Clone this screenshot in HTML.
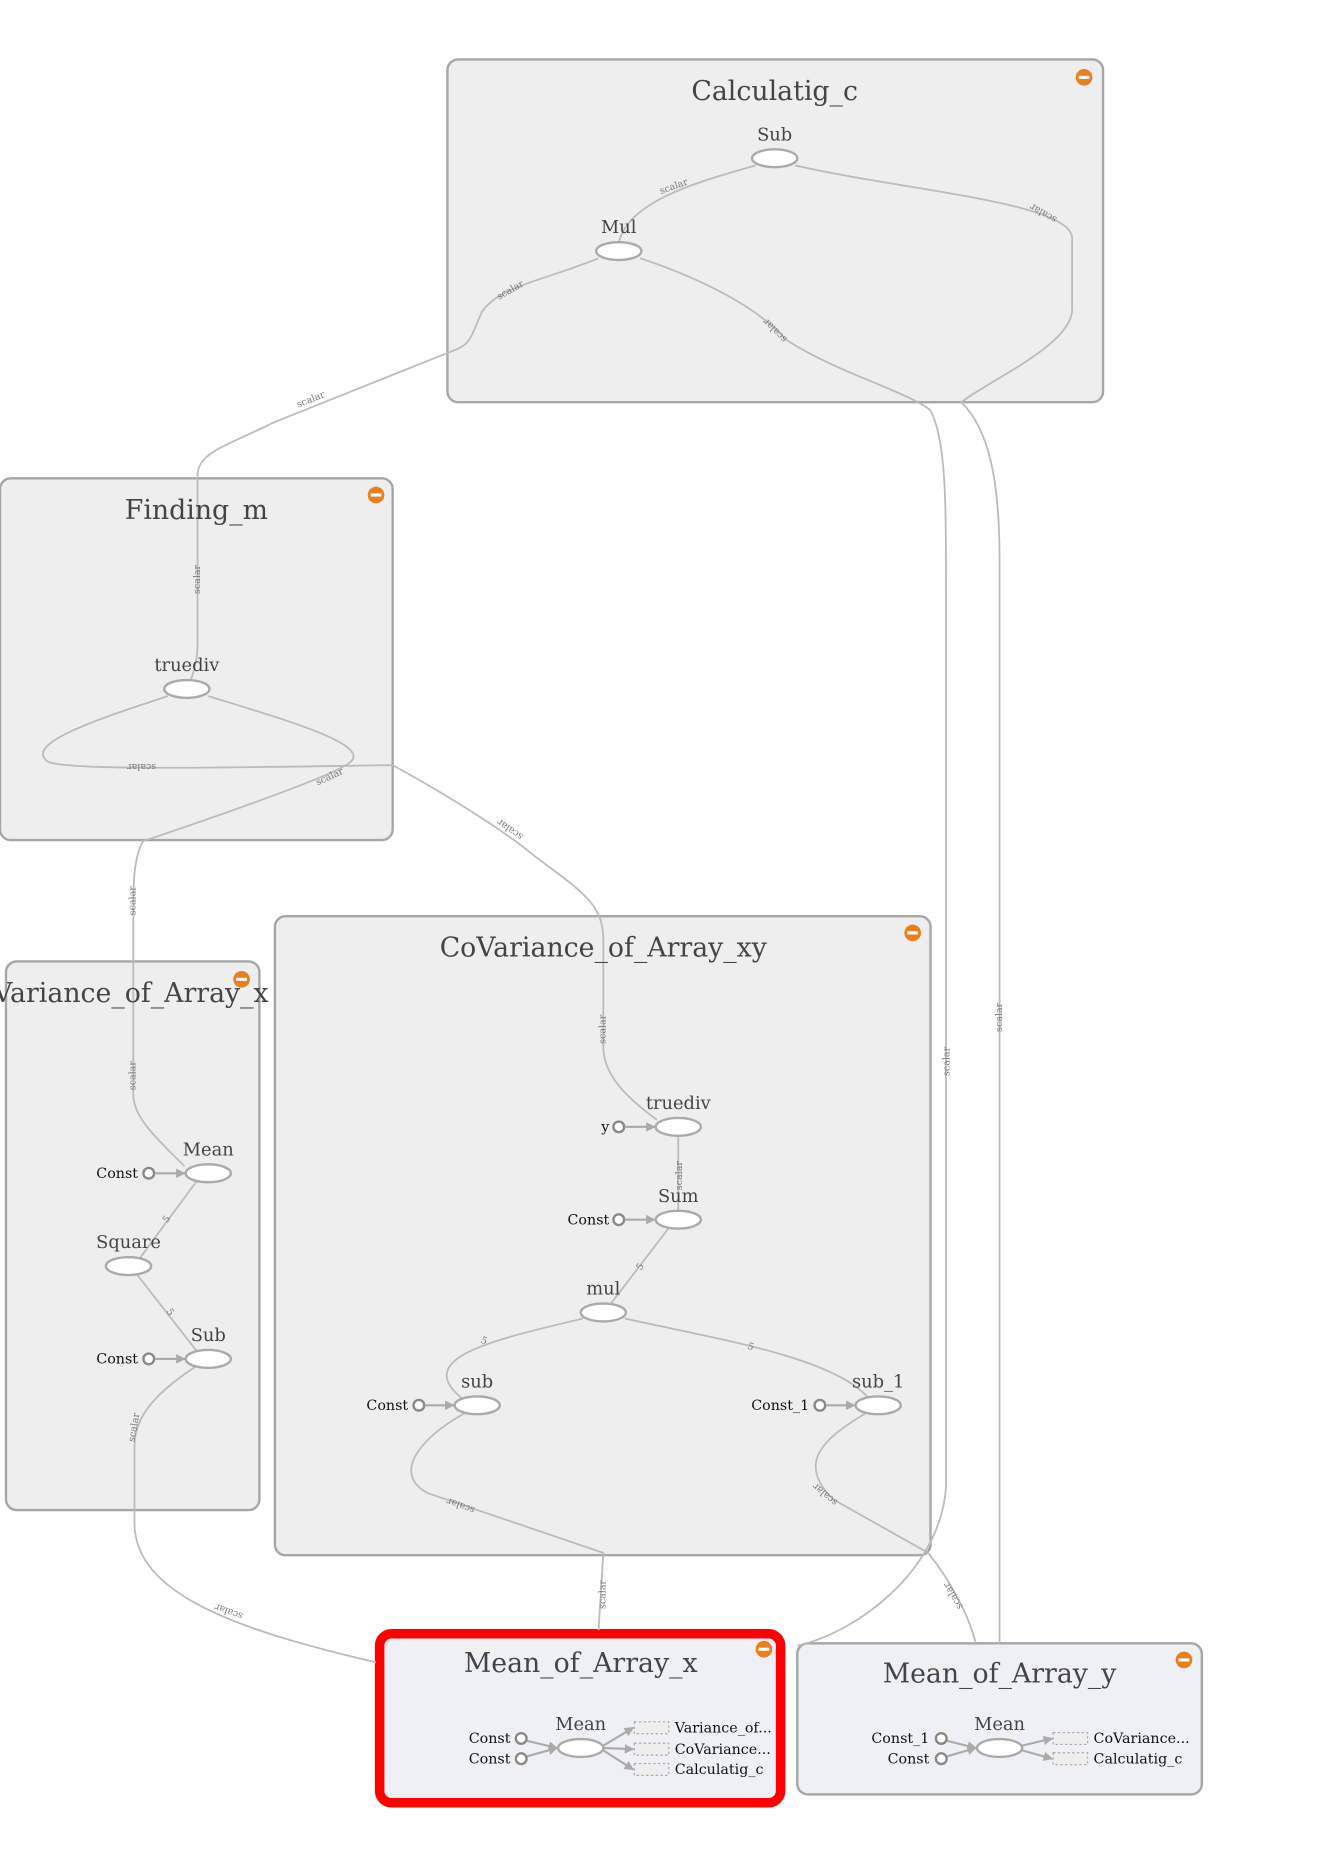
<!DOCTYPE html>
<html><head><meta charset="utf-8"><style>
html,body{margin:0;padding:0;background:#fff;}
svg{display:block;}
.t{font-family:"DejaVu Serif","Liberation Serif",serif;fill:#444;text-anchor:middle;}
.ttl{font-size:22.5px;}
.nl{font-size:15px;}
.cl{font-family:"DejaVu Serif","Liberation Serif",serif;font-size:12px;fill:#111;text-anchor:end;}
.ol{font-family:"DejaVu Serif","Liberation Serif",serif;font-size:12px;fill:#111;}
.el{font-family:"DejaVu Serif","Liberation Serif",serif;font-size:8px;fill:#777;text-anchor:middle;}
.box{fill:#eeeeee;stroke:#a6a6a6;stroke-width:2;}
.edge{fill:none;stroke:#bbbbbb;stroke-width:1.5;}
.node{fill:#fff;stroke:#aaaaaa;stroke-width:2;}
.cc{fill:#fff;stroke:#888;stroke-width:2;}
.ar{stroke:#aaa;stroke-width:1.8;fill:none;marker-end:url(#ah);}
.db{fill:#eeeeee;stroke:#aaa;stroke-width:1;stroke-dasharray:2,2;}
</style></head><body>
<svg width="1323" height="1867" viewBox="0 0 1111.8 1569" xmlns="http://www.w3.org/2000/svg">
<defs>
<marker id="ah" markerWidth="8" markerHeight="8" refX="7" refY="4" orient="auto" markerUnits="userSpaceOnUse"><path d="M0,0 L8,4 L0,8 z" fill="#aaa"/></marker>
<g id="icon"><circle r="7" fill="#e8801f"/><rect x="-4.5" y="-1.3" width="9" height="2.6" fill="#fff"/></g>
</defs>

<rect class="box" x="376" y="50" width="551" height="288" rx="9"/>
<rect class="box" x="0" y="402" width="330" height="304" rx="9"/>
<rect class="box" x="5" y="808" width="213" height="461" rx="9"/>
<rect class="box" x="231" y="770" width="551" height="537" rx="9"/>
<rect x="319" y="1373" width="337" height="142" rx="10" fill="#eef0f5" stroke="#ff0000" stroke-width="8"/>
<rect x="670" y="1381" width="340" height="127" rx="9" fill="#eef0f5" stroke="#a6a6a6" stroke-width="2"/>

<path class="edge" d="M635,139 C590,152 528,168 520,204"/>
<path class="edge" d="M668,139 C760,160 900,170 901,200 L901,260 C901,290 830,320 808,338 C830,360 840,400 840,470 L840,1381"/>
<path class="edge" d="M538,217 C600,238 640,262 660,285 C700,312 765,330 782,345 C795,370 795,420 795,500 L795,1250 C790,1320 720,1372 670,1383"/>
<path class="edge" d="M503,217 C460,235 420,240 405,262 C395,285 395,290 380,295 L230,355 C190,375 166,380 166,400 L166,540 C166,555 163,565 160,572"/>
<path class="edge" d="M141,585 C80,605 20,625 40,640 C55,648 200,645 330,643"/>
<path class="edge" d="M175,585 C240,605 310,625 295,640 C285,650 200,680 120,707 C113,720 112,740 112,760 L112,920 C112,940 135,960 155,980"/>
<path class="edge" d="M330,643 C370,665 420,695 450,720 C490,750 507,760 507,790 L507,880 C507,905 530,925 552,941"/>
<path class="edge" d="M165,1148 C140,1165 113,1185 113,1215 L113,1280 C113,1340 200,1370 316,1397"/>
<path class="edge" d="M390,1188 C350,1210 330,1240 360,1255 L507,1305 L503,1370"/>
<path class="edge" d="M727,1188 C690,1210 670,1230 700,1260 L780,1305 C800,1330 815,1360 820,1381"/>
<path class="edge" d="M165,993 L117,1058"/>
<path class="edge" d="M115,1071 L165,1135"/>
<path class="edge" d="M570,955 L570,1018"/>
<path class="edge" d="M562,1032 L513,1096"/>
<path class="edge" d="M490,1108 C420,1125 345,1140 388,1175"/>
<path class="edge" d="M525,1108 C600,1125 700,1140 730,1175"/>

<text class="el" transform="translate(567,159) rotate(-20)">scalar</text>
<text class="el" transform="translate(878,177) rotate(210)">scalar</text>
<text class="el" transform="translate(653,276) rotate(225)">scalar</text>
<text class="el" transform="translate(430,246) rotate(-30)">scalar</text>
<text class="el" transform="translate(262,338) rotate(-22)">scalar</text>
<text class="el" transform="translate(168,487) rotate(-90)">scalar</text>
<text class="el" transform="translate(119,642) rotate(180)">scalar</text>
<text class="el" transform="translate(278,655) rotate(-25)">scalar</text>
<text class="el" transform="translate(430,695) rotate(215)">scalar</text>
<text class="el" transform="translate(114,757) rotate(-90)">scalar</text>
<text class="el" transform="translate(114,904) rotate(-90)">scalar</text>
<text class="el" transform="translate(509,865) rotate(-90)">scalar</text>
<text class="el" transform="translate(798,892) rotate(-90)">scalar</text>
<text class="el" transform="translate(842,855) rotate(-90)">scalar</text>
<text class="el" transform="translate(573,988) rotate(-90)">scalar</text>
<text class="el" transform="translate(142,1026) rotate(-55)">5</text>
<text class="el" transform="translate(141,1104) rotate(55)">5</text>
<text class="el" transform="translate(540,1066) rotate(-55)">5</text>
<text class="el" transform="translate(406,1129) rotate(20)">5</text>
<text class="el" transform="translate(630,1134) rotate(20)">5</text>
<text class="el" transform="translate(115,1200) rotate(-80)">scalar</text>
<text class="el" transform="translate(193,1352) rotate(200)">scalar</text>
<text class="el" transform="translate(388,1263) rotate(200)">scalar</text>
<text class="el" transform="translate(509,1340) rotate(-90)">scalar</text>
<text class="el" transform="translate(695,1254) rotate(220)">scalar</text>
<text class="el" transform="translate(803,1340) rotate(240)">scalar</text>

<text class="t ttl" x="651" y="84">Calculatig_c</text>
<text class="t ttl" x="165" y="436">Finding_m</text>
<text class="t ttl" x="110" y="842">Variance_of_Array_x</text>
<text class="t ttl" x="507" y="804">CoVariance_of_Array_xy</text>
<text class="t ttl" x="488" y="1405">Mean_of_Array_x</text>
<text class="t ttl" x="840" y="1414">Mean_of_Array_y</text>
<use href="#icon" x="911" y="65"/>
<use href="#icon" x="316" y="416"/>
<use href="#icon" x="203" y="823"/>
<use href="#icon" x="767" y="784"/>
<use href="#icon" x="642" y="1386"/>
<use href="#icon" x="995" y="1395"/>

<ellipse class="node" cx="651" cy="133" rx="19" ry="7.5"/><text class="t nl" x="651" y="118">Sub</text>
<ellipse class="node" cx="520" cy="211" rx="19" ry="7.5"/><text class="t nl" x="520" y="196">Mul</text>
<ellipse class="node" cx="157" cy="579" rx="19" ry="7.5"/><text class="t nl" x="157" y="564">truediv</text>
<ellipse class="node" cx="175" cy="986" rx="19" ry="7.5"/><text class="t nl" x="175" y="971">Mean</text>
<circle class="cc" cx="125" cy="986" r="4.5"/><line class="ar" x1="130" y1="986" x2="155" y2="986"/><text class="cl" x="116" y="990">Const</text>
<ellipse class="node" cx="108" cy="1064" rx="19" ry="7.5"/><text class="t nl" x="108" y="1049">Square</text>
<ellipse class="node" cx="175" cy="1142" rx="19" ry="7.5"/><text class="t nl" x="175" y="1127">Sub</text>
<circle class="cc" cx="125" cy="1142" r="4.5"/><line class="ar" x1="130" y1="1142" x2="155" y2="1142"/><text class="cl" x="116" y="1146">Const</text>
<ellipse class="node" cx="570" cy="947" rx="19" ry="7.5"/><text class="t nl" x="570" y="932">truediv</text>
<circle class="cc" cx="520" cy="947" r="4.5"/><line class="ar" x1="525" y1="947" x2="550" y2="947"/><text class="cl" x="512" y="951">y</text>
<ellipse class="node" cx="570" cy="1025" rx="19" ry="7.5"/><text class="t nl" x="570" y="1010">Sum</text>
<circle class="cc" cx="520" cy="1025" r="4.5"/><line class="ar" x1="525" y1="1025" x2="550" y2="1025"/><text class="cl" x="512" y="1029">Const</text>
<ellipse class="node" cx="507" cy="1103" rx="19" ry="7.5"/><text class="t nl" x="507" y="1088">mul</text>
<ellipse class="node" cx="401" cy="1181" rx="19" ry="7.5"/><text class="t nl" x="401" y="1166">sub</text>
<circle class="cc" cx="352" cy="1181" r="4.5"/><line class="ar" x1="357" y1="1181" x2="381" y2="1181"/><text class="cl" x="343" y="1185">Const</text>
<ellipse class="node" cx="738" cy="1181" rx="19" ry="7.5"/><text class="t nl" x="738" y="1166">sub_1</text>
<circle class="cc" cx="689" cy="1181" r="4.5"/><line class="ar" x1="694" y1="1181" x2="718" y2="1181"/><text class="cl" x="680" y="1185">Const_1</text>
<ellipse class="node" cx="488" cy="1469" rx="19" ry="7.5"/><text class="t nl" x="488" y="1454">Mean</text>
<circle class="cc" cx="438" cy="1461" r="4.5"/><line class="ar" x1="443" y1="1463" x2="468" y2="1469"/><text class="cl" x="429" y="1465">Const</text>
<circle class="cc" cx="438" cy="1478" r="4.5"/><line class="ar" x1="443" y1="1476" x2="468" y2="1469"/><text class="cl" x="429" y="1482">Const</text>
<line class="ar" x1="507" y1="1467" x2="532" y2="1452"/>
<line class="ar" x1="507" y1="1469" x2="532" y2="1470"/>
<line class="ar" x1="507" y1="1471" x2="532" y2="1487"/>
<rect class="db" x="533" y="1447" width="29" height="10"/><text class="ol" x="567" y="1456">Variance_of...</text>
<rect class="db" x="533" y="1465" width="29" height="10"/><text class="ol" x="567" y="1474">CoVariance...</text>
<rect class="db" x="533" y="1482" width="29" height="10"/><text class="ol" x="567" y="1491">Calculatig_c</text>
<ellipse class="node" cx="840" cy="1469" rx="19" ry="7.5"/><text class="t nl" x="840" y="1454">Mean</text>
<circle class="cc" cx="791" cy="1461" r="4.5"/><line class="ar" x1="796" y1="1463" x2="820" y2="1469"/><text class="cl" x="781" y="1465">Const_1</text>
<circle class="cc" cx="791" cy="1478" r="4.5"/><line class="ar" x1="796" y1="1476" x2="820" y2="1469"/><text class="cl" x="781" y="1482">Const</text>
<line class="ar" x1="859" y1="1467" x2="884" y2="1461"/>
<line class="ar" x1="859" y1="1471" x2="884" y2="1478"/>
<rect class="db" x="885" y="1456" width="29" height="10"/><text class="ol" x="919" y="1465">CoVariance...</text>
<rect class="db" x="885" y="1473" width="29" height="10"/><text class="ol" x="919" y="1482">Calculatig_c</text>
</svg>
</body></html>
